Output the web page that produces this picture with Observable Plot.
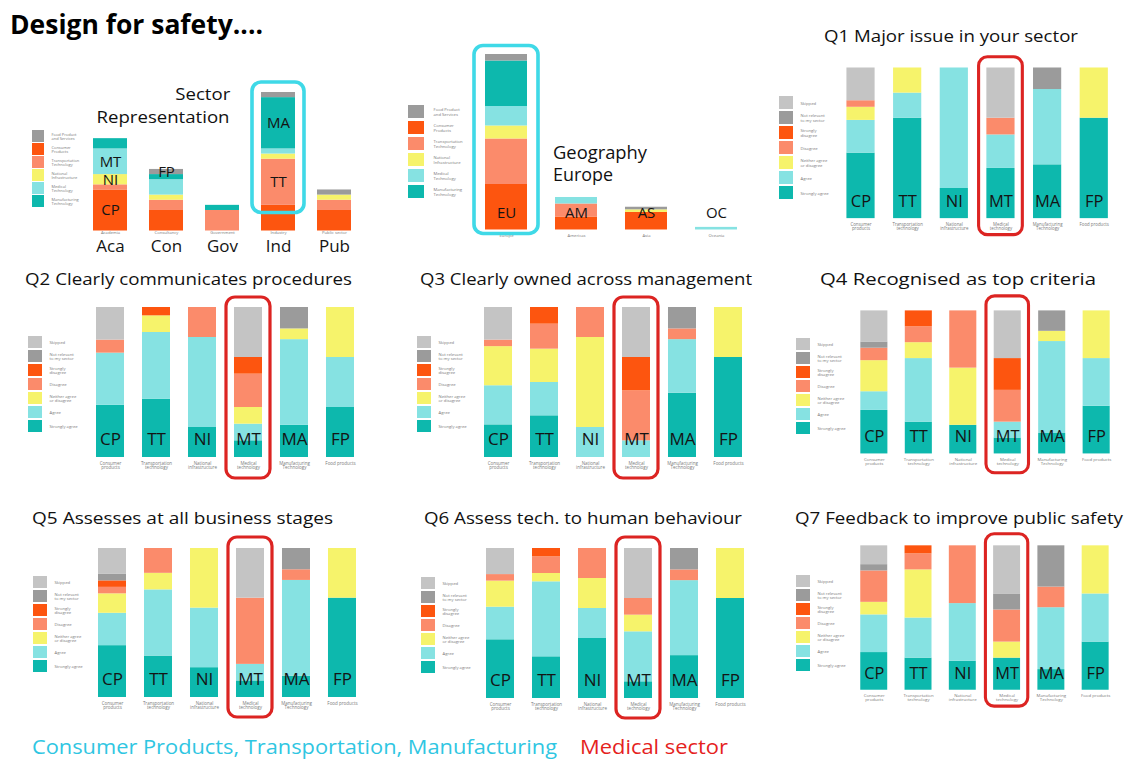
<!DOCTYPE html>
<html><head><meta charset="utf-8">
<script src="https://cdn.jsdelivr.net/npm/d3@7"></script>
<script src="https://cdn.jsdelivr.net/npm/@observablehq/plot@0.6"></script>
<style>
body{margin:0;background:#fff;}
#slide{position:relative;width:1128px;height:760px;overflow:hidden;background:#fff;font-family:"Open Sans",sans-serif;}
.abs{position:absolute;}
.abs svg{overflow:visible;display:block;}
.t{position:absolute;white-space:nowrap;color:#111;}
</style></head><body><div id="slide"></div>
<script>
// ---------- data ----------
// response levels, bottom of the stack first
const levels = ["Strongly agree","Agree","Neither agree or disagree","Disagree","Strongly disagree","Not relevant to my sector","Skipped"];
const levelLabels = ["Strongly agree","Agree","Neither agree\nor disagree","Disagree","Strongly\ndisagree","Not relevant\nto my sector","Skipped"];
const levelColors = ["#0db8ad","#86e2e2","#f6f36b","#fb8b6b","#fd550f","#9b9b9b","#c4c4c4"];
const sectors = ["CP","TT","NI","MT","MA","FP"];
const sectorNames = ["Consumer\nproducts","Transportation\ntechnology","National\ninfrastructure","Medical\ntechnology","Manufacturing\nTechnology","Food products"];
const highlightSector = "MT";

// counts per sector (rows: CP,TT,NI,MT,MA,FP), columns in `levels` order
const q1 = [[10,5,2,1,0,0,5],[12,3,3,0,0,0,0],[1,4,0,0,0,0,0],[3,2,0,1,0,0,3],[5,7,0,0,0,2,0],[2,0,1,0,0,0,0]];
const q2 = [[8,8,0,2,0,0,5],[7,8,2,0,1,0,0],[1,3,0,1,0,0,0],[1,1,1,2,1,0,3],[3,8,1,0,0,2,0],[1,1,1,0,0,0,0]];
const q3 = [[5,6,6,1,0,0,5],[5,4,4,3,2,0,0],[0,1,3,1,0,0,0],[0,1,0,3,2,0,3],[6,5,0,1,0,2,0],[2,0,1,0,0,0,0]];
const q4 = [[7,3,5,2,0,1,5],[4,8,2,2,2,0,0],[1,0,2,2,0,0,0],[1,1,0,2,2,0,3],[2,9,1,0,0,2,0],[1,1,1,0,0,0,0]];
const q5 = [[8,5,3,1,1,1,4],[5,8,2,3,0,0,0],[1,2,2,0,0,0,0],[1,1,0,4,0,0,3],[2,9,0,1,0,2,0],[2,0,1,0,0,0,0]];
const q6 = [[9,5,4,1,0,0,4],[5,9,1,2,1,0,0],[2,1,1,1,0,0,0],[1,3,1,1,0,0,3],[4,7,0,1,0,2,0],[2,0,1,0,0,0,0]];
const q7 = [[6,6,2,5,0,1,3],[4,5,6,2,1,0,0],[1,2,0,2,0,0,0],[2,0,1,2,0,1,3],[2,6,0,2,0,4,0],[1,1,1,0,0,0,0]];
const qTitles = ["Q1 Major issue in your sector","Q2 Clearly communicates procedures","Q3 Clearly owned across management","Q4 Recognised as top criteria","Q5 Assesses at all business stages","Q6 Assess tech. to human behaviour","Q7 Feedback to improve public safety"];

// sector representation
const repCats = ["CP","TT","NI","MT","MA","FP"]; // bottom of the stack first
const repCatNames = ["Consumer\nProducts","Transportation\nTechnology","National\nInfrastructure","Medical\nTechnology","Manufacturing\nTechnology","Food Product\nand Services"];
const repCatColors = ["#fd550f","#fb8b6b","#f6f36b","#86e2e2","#0db8ad","#9b9b9b"];
const repLegendOrder = ["FP","CP","TT","NI","MT","MA"];
const repGroups = ["Aca","Con","Gov","Ind","Pub"];
const repGroupNames = ["Academia","Consultancy","Government","Industry","Public sector"];
const repCounts = [[8,1,2,5,2,0],[4,2,1,3,1,1],[0,4,0,0,1,0],[5,9,1,1,10,1],[4,2,1,0,0,1]];
const repLabels = [["Aca","CP"],["Aca","NI"],["Aca","MT"],["Con","FP"],["Ind","MA"],["Ind","TT"]];
const repHighlight = "Ind";

// geography
const geoGroups = ["EU","AM","AS","OC"];
const geoGroupNames = ["Europe","Americas","Asia","Oceania"];
const geoCounts = [[7,7,2,3,7,1],[2,2,0,1,0,0],[2.7,0,0.4,0,0,0.4],[0,0,0,0.4,0,0]];
const geoHighlight = "EU";

// ---------- layout ----------
const slide = document.getElementById("slide");
const FONT = "Open Sans, sans-serif";
function place(node, left, top){
  const d = document.createElement("div"); d.className = "abs";
  d.style.left = left + "px"; d.style.top = top + "px";
  d.appendChild(node); slide.appendChild(d);
}
function addText(str, o){
  const L = 1.4;
  const d = document.createElement("div"); d.className = "t"; d.textContent = str;
  d.style.fontSize = o.size + "px"; d.style.lineHeight = (L*o.size) + "px";
  d.style.fontWeight = o.weight || 400; d.style.color = o.color || "#111";
  d.style.top = (o.cy - (L/2 + 0.031)*o.size) + "px"; d.style.left = "0px";
  slide.appendChild(d);
  const nat = d.getBoundingClientRect().width;
  const s = o.w ? o.w/nat : 1;
  if (o.anchor === "end") { d.style.left = (o.x - nat) + "px"; d.style.transformOrigin = "right center"; }
  else { d.style.left = o.x + "px"; d.style.transformOrigin = "left center"; }
  d.style.transform = `scaleX(${s})`;
}
function legendBox(domain, labels, colors, g){
  const n = domain.length, p = 1 - g.sqH/g.pitch, mR = 70;
  const el = Plot.plot({
    width: g.sqW + mR, height: n*g.pitch,
    marginLeft: 0, marginTop: 0, marginBottom: 0, marginRight: mR,
    style: {overflow: "visible", fontFamily: FONT, background: "transparent"},
    y: {domain, paddingInner: p, paddingOuter: p/2, axis: null},
    color: {domain, range: colors},
    marks: [
      Plot.cell(domain, {y: d => d, fill: d => d}),
      Plot.text(domain, {y: d => d, frameAnchor: "right", dx: g.dx, textAnchor: "start",
        text: (d, i) => labels[i], fontSize: g.fs, fill: "#7a7a7a", lineHeight: 1.15})
    ]
  });
  place(el, g.x, g.top - (p/2)*g.pitch);
}
function qPanel(counts, g){
  const mL = 10, mR = 10, mT = 18, mB = 28;
  const rows = [];
  counts.forEach((r, i) => r.forEach((n, j) => rows.push({sector: sectors[i], level: levels[j], n})));
  const el = Plot.plot({
    width: 6*g.step + mL + mR, height: (g.bottom - g.top) + mT + mB,
    marginLeft: mL, marginRight: mR, marginTop: mT, marginBottom: mB,
    style: {overflow: "visible", fontFamily: FONT, background: "transparent"},
    x: {domain: sectors, paddingInner: 0.4, paddingOuter: 0.2, label: null},
    y: {domain: [0, 1], axis: null},
    color: {domain: levels, range: levelColors},
    marks: [
      Plot.barY(rows, Plot.stackY({offset: "normalize", order: levels}, {x: "sector", y: "n", z: "level", fill: "level"})),
      Plot.text(sectors, {x: d => d, frameAnchor: "bottom", dy: -12, text: d => d, fontSize: 17, fill: "#141414"}),
      Plot.axisX({tickSize: 0, tickPadding: 4, fontSize: 4.5, color: "#7a7a7a", label: null,
        tickFormat: d => sectorNames[sectors.indexOf(d)]}),
      Plot.barY([highlightSector], {x: d => d, y1: 0, y2: 1, fill: "none", stroke: "#dc2422", strokeWidth: 3.2, rx: 9,
        insetTop: g.rt, insetBottom: g.rb, insetLeft: -8, insetRight: -8})
    ]
  });
  place(el, g.left - 0.2*g.step - mL, g.top - mT);
}
function groupPanel(groups, groupNames, counts, labelFn, hl, g){
  const mL = 10, mR = 10, mT = 20, mB = 34;
  const rows = [];
  counts.forEach((r, i) => r.forEach((n, j) => rows.push({group: groups[i], cat: repCats[j], n})));
  const total = d3.max(counts, r => d3.sum(r));
  const H = total * g.unit;
  const el = Plot.plot({
    width: groups.length*g.step + mL + mR, height: H + mT + mB,
    marginLeft: mL, marginRight: mR, marginTop: mT, marginBottom: mB,
    style: {overflow: "visible", fontFamily: FONT, background: "transparent"},
    x: {domain: groups, paddingInner: 0.4, paddingOuter: 0.2, label: null},
    y: {domain: [0, total], axis: null},
    color: {domain: repCats, range: repCatColors},
    marks: [
      Plot.barY(rows, Plot.stackY({order: repCats}, {x: "group", y: "n", z: "cat", fill: "cat"})),
      ...labelFn(rows),
      Plot.axisX({tickSize: 0, tickPadding: g.tp, fontSize: 4.2, color: "#7a7a7a", label: null,
        tickFormat: d => groupNames[groups.indexOf(d)]}),
      Plot.barY(rows.filter(d => d.group === hl), Plot.groupX({y: "sum"}, {x: "group", y: "n", fill: "none",
        stroke: "#3fd9e7", strokeWidth: 3.6, rx: 9, insetTop: g.ht, insetBottom: g.hb, insetLeft: g.hx, insetRight: g.hx}))
    ]
  });
  place(el, g.left - 0.2*g.step - mL, g.bottom - H - mT);
}

// ---------- draw ----------
const repLabelSet = new Set(repLabels.map(([a, b]) => a + "|" + b));
groupPanel(repGroups, repGroupNames, repCounts, rows => [
  Plot.text(rows, Plot.stackY({order: repCats}, {x: "group", y: "n", z: "cat",
    text: d => repLabelSet.has(d.group + "|" + d.cat) ? d.cat : null, fontSize: 15, fill: "#141414"})),
  Plot.text(repGroups, {x: d => d, frameAnchor: "bottom", dy: 21, text: d => d, fontSize: 17, fill: "#141414"})
], repHighlight, {left: 92, step: 56.5, bottom: 231, unit: 5.13, tp: 0, ht: -10, hb: 18, hx: -9});

groupPanel(geoGroups, geoGroupNames, geoCounts, rows => [
  Plot.text(geoGroups, {x: d => d, frameAnchor: "bottom", dy: -12, text: d => d, fontSize: 15, fill: "#141414"})
], geoHighlight, {left: 484, step: 70.3, bottom: 229, unit: 6.5, tp: 4, ht: -8.5, hb: -4, hx: -11});

legendBox(repLegendOrder, repLegendOrder.map(c => repCatNames[repCats.indexOf(c)]),
  repLegendOrder.map(c => repCatColors[repCats.indexOf(c)]), {x: 32, top: 130, pitch: 13.2, sqH: 12, sqW: 12, dx: 7, fs: 4});
legendBox(repLegendOrder, repLegendOrder.map(c => repCatNames[repCats.indexOf(c)]),
  repLegendOrder.map(c => repCatColors[repCats.indexOf(c)]), {x: 408, top: 103, pitch: 16.6, sqH: 14, sqW: 16, dx: 9, fs: 4.2});

const qData = [q1, q2, q3, q4, q5, q6, q7];
const qGeo = [
  {left: 846, step: 48.4, top: 68, bottom: 223, rt: -11, rb: -17, lx: 779, ly: 96, lp: 15},
  {left: 93, step: 46.8, top: 307, bottom: 457, rt: -10, rb: -21, lx: 28, ly: 334, lp: 14.5},
  {left: 482, step: 46.6, top: 307, bottom: 457, rt: -10, rb: -21, lx: 417, ly: 334, lp: 14.5},
  {left: 860, step: 46.2, top: 311, bottom: 459, rt: -15, rb: -20, lx: 796, ly: 337, lp: 14.3},
  {left: 97, step: 46.2, top: 548, bottom: 697, rt: -11, rb: -20, lx: 33, ly: 574, lp: 14.5},
  {left: 485, step: 46.4, top: 548, bottom: 698, rt: -11, rb: -20, lx: 421, ly: 575, lp: 14.5},
  {left: 860, step: 46.4, top: 546, bottom: 696, rt: -12, rb: -17, lx: 796, ly: 573, lp: 14.5}
];
const qTitlePos = [
  {x: 824, cy: 36, w: 254}, {x: 25, cy: 279, w: 327}, {x: 420, cy: 279, w: 332}, {x: 820, cy: 279, w: 276},
  {x: 32, cy: 518, w: 301}, {x: 424, cy: 518, w: 318}, {x: 795, cy: 518, w: 328}
];
const legendTop = levels.slice().reverse();
const legendTopLabels = levelLabels.slice().reverse();
const legendTopColors = levelColors.slice().reverse();
qData.forEach((q, i) => {
  const g = qGeo[i];
  qPanel(q, g);
  legendBox(legendTop, legendTopLabels, legendTopColors, {x: g.lx, top: g.ly, pitch: g.lp, sqH: 12.5, sqW: 14, dx: 7, fs: 4.2});
  addText(qTitles[i], {...qTitlePos[i], size: 16.5});
});

addText("Design for safety....", {x: 10, cy: 25, size: 26, weight: 700, w: 253, color: "#000"});
addText("Sector", {x: 230, cy: 94, size: 17, w: 55, anchor: "end"});
addText("Representation", {x: 230, cy: 117, size: 17, w: 133, anchor: "end"});
addText("Geography", {x: 553, cy: 153, size: 17.5, w: 94});
addText("Europe", {x: 553, cy: 175, size: 17.5, w: 60});
addText("Consumer Products, Transportation, Manufacturing", {x: 32, cy: 747, size: 19.5, w: 525, color: "#2fc6e2"});
addText("Medical sector", {x: 580, cy: 747, size: 19.5, w: 148, color: "#e5221d"});
</script>
</body></html>
